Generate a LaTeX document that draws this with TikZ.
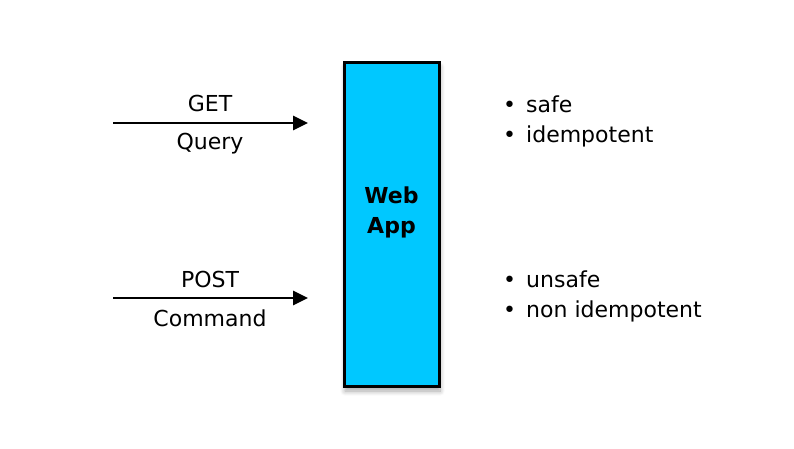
\documentclass[tikz,border=0pt]{standalone}
\usepackage{fontspec}
\setmainfont{DejaVu Sans}
\usetikzlibrary{arrows.meta, positioning, shadows.blur}
\definecolor{appblue}{HTML}{00C8FF}
\tikzset{>={Triangle[length=15pt,width=14pt]}}
\tikzset{
  appbox/.style={draw, line width=3pt, fill=appblue, minimum width=95pt, minimum height=324pt,
    blur shadow={shadow xshift=1pt, shadow yshift=-5pt, shadow blur radius=5pt, shadow blur steps=8, shadow opacity=35}},
  reqline/.style={->, line width=2.8pt},
  lbl/.style={font=\fontsize{22}{26}\selectfont, anchor=base, inner sep=0pt},
  prop/.style={font=\fontsize{22}{26}\selectfont, anchor=base west, inner sep=0pt}
}
\newcommand{\propitem}[1]{\makebox[23pt][l]{\textbullet}#1}
\begin{document}
\begin{tikzpicture}[x=1pt, y=-1pt]
			\useasboundingbox (0, 0) rectangle (794, 448);
			\node[appbox] (app) at (391.5, 224) {};
			\node[lbl] (appweb) at (391.5, 203) {\textbf{Web}};
			\node[lbl] (appapp) at (391.5, 233) {\textbf{App}};
			% GET request
			\coordinate (getstart) at (113, 123);
			\coordinate (getend) at (308, 123);
			\draw[reqline] (getstart) -- (getend);
			\node[lbl] (get) at (210, 111) {GET};
			\node[lbl] (query) at (210, 149) {Query};
			% POST request
			\coordinate (poststart) at (113, 298);
			\coordinate (postend) at (308, 298);
			\draw[reqline] (poststart) -- (postend);
			\node[lbl] (post) at (210, 287) {POST};
			\node[lbl] (command) at (210, 326) {Command};
			% properties
			\node[prop] (safe) at (503, 112) {\propitem{safe}};
			\node[prop] (idem) at (503, 142) {\propitem{idempotent}};
			\node[prop] (unsafe) at (503, 287) {\propitem{unsafe}};
			\node[prop] (nonidem) at (503, 317) {\propitem{non idempotent}};
		\end{tikzpicture}
\end{document}
